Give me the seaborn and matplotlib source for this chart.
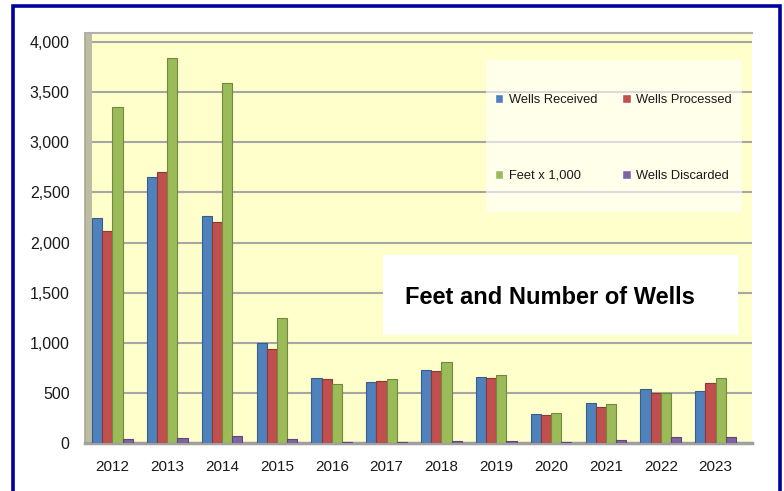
import numpy as np
import pandas as pd
import matplotlib
matplotlib.use('Agg')
import matplotlib.pyplot as plt
import seaborn as sns
from matplotlib.patches import Rectangle
from matplotlib.ticker import FuncFormatter, FixedLocator

# data
years = ['2012', '2013', '2014', '2015', '2016', '2017',
         '2018', '2019', '2020', '2021', '2022', '2023']
wells_received = [2240, 2650, 2260, 1000, 650, 610, 730, 660, 290, 400, 540, 520]
wells_processed = [2110, 2700, 2200, 940, 640, 615, 720, 645, 275, 355, 495, 600]
feet_x1000 = [3350, 3840, 3590, 1250, 590, 640, 810, 680, 300, 385, 500, 650]
wells_discarded = [40, 50, 70, 35, 10, 5, 20, 15, 5, 30, 55, 55]

series_names = ['Wells Received', 'Wells Processed', 'Feet x 1,000', 'Wells Discarded']
series_colors = ['#4F81BD', '#C0504D', '#9BBB59', '#8064A2']
edge_colors = ['#385D8A', '#8C3836', '#71893F', '#5C4776']

df = pd.DataFrame({
    'year': years * 4,
    'value': wells_received + wells_processed + feet_x1000 + wells_discarded,
    'series': np.repeat(series_names, len(years)),
})

sns.set_style('white')
plt.rcParams['font.family'] = ['Liberation Sans', 'DejaVu Sans']

W, H = 784, 491
fig = plt.figure(figsize=(W / 100, H / 100), dpi=100)
# axes placed in pixel terms of the reference
ax_l, ax_r, ax_b, ax_t = 85, 752, 443, 33
ax = fig.add_axes([ax_l / W, 1 - ax_b / H, (ax_r - ax_l) / W, (ax_b - ax_t) / H])
ax.set_facecolor('#FFFFCC')

sns.barplot(data=df, x='year', y='value', hue='series', hue_order=series_names,
            palette=series_colors, width=0.74, saturation=1, ax=ax, zorder=3)
for cont, ec in zip(ax.containers, edge_colors):
    for bar in cont:
        bar.set_edgecolor(ec)
        bar.set_linewidth(0.8)

ax.set_xlim(-0.5, 11.5 + 9 / 55)
ax.set_ylim(0, 4000 + 9 / (401 / 4000))
ax.set_xlabel('')
ax.set_ylabel('')

ax.yaxis.set_major_locator(FixedLocator(np.arange(0, 4001, 500)))
ax.yaxis.set_major_formatter(FuncFormatter(lambda v, p: f'{v:,.0f}'))
ax.yaxis.grid(True, color='#A6A6A6', linewidth=1.5)
ax.set_axisbelow(True)

ax.xaxis.set_minor_locator(FixedLocator(np.arange(-0.5, 12, 1)))
ax.tick_params(axis='x', which='major', length=0, pad=12, labelsize=11, colors='#1a1a1a')
ax.tick_params(axis='x', which='minor', length=6, width=1, color='#808080')
ax.tick_params(axis='y', which='major', length=5, width=1, color='#808080',
               pad=6, labelsize=11.5, labelcolor='#1a1a1a')

ax.spines['right'].set_visible(False)
ax.spines['top'].set_color('#B0B0B0')
ax.spines['top'].set_linewidth(1.5)
ax.spines['left'].set_color('#A8A890')
ax.spines['left'].set_linewidth(1.2)
ax.spines['bottom'].set_color('#A0A0A0')
ax.spines['bottom'].set_linewidth(2.5)

# 3D-ish side wall
ax.add_patch(Rectangle((0, 0), 7 / (ax_r - ax_l), 1, transform=ax.transAxes,
                       facecolor='#BDBDA3', edgecolor='none', zorder=1))

# translucent legend panel (inside the axes so the legend sits on top of it)
ax.add_patch(Rectangle((486 / W, 1 - 212 / H), 256 / W, 152 / H,
                       transform=fig.transFigure, facecolor='white', alpha=0.6,
                       edgecolor='none', zorder=5, clip_on=False))

# legend: row-wise order (matplotlib fills columns first)
handles, labels = ax.get_legend_handles_labels()
order = [0, 2, 1, 3]
leg = ax.legend([handles[i] for i in order], [labels[i] for i in order],
                loc='upper left', bbox_to_anchor=(495 / W, 1 - 94 / H),
                bbox_transform=fig.transFigure, ncol=2, fontsize=9.3,
                handlelength=0.65, handleheight=0.65, handletextpad=0.4,
                columnspacing=1.95, labelspacing=4.95, borderpad=0,
                borderaxespad=0, frameon=False)
leg.set_zorder(6)
for t in leg.get_texts():
    t.set_color('#1a1a1a')

# title box
fig.patches.append(Rectangle((383 / W, 1 - 335 / H), 355 / W, 80 / H,
                             transform=fig.transFigure, facecolor='white',
                             edgecolor='none', zorder=5))
fig.text(550 / W, 1 - 298 / H, 'Feet and Number of Wells', ha='center', va='center',
         fontsize=17, fontweight='bold', color='black', zorder=6)

# blue outer border
fig.patches.append(Rectangle((13.5 / W, -0.05), (780 - 13.5) / W, 1.05 - 6.5 / H,
                             transform=fig.transFigure, fill=False,
                             edgecolor='#0000A0', linewidth=2.6, zorder=7))

plt.savefig('out.png', dpi=100)
plt.close()
